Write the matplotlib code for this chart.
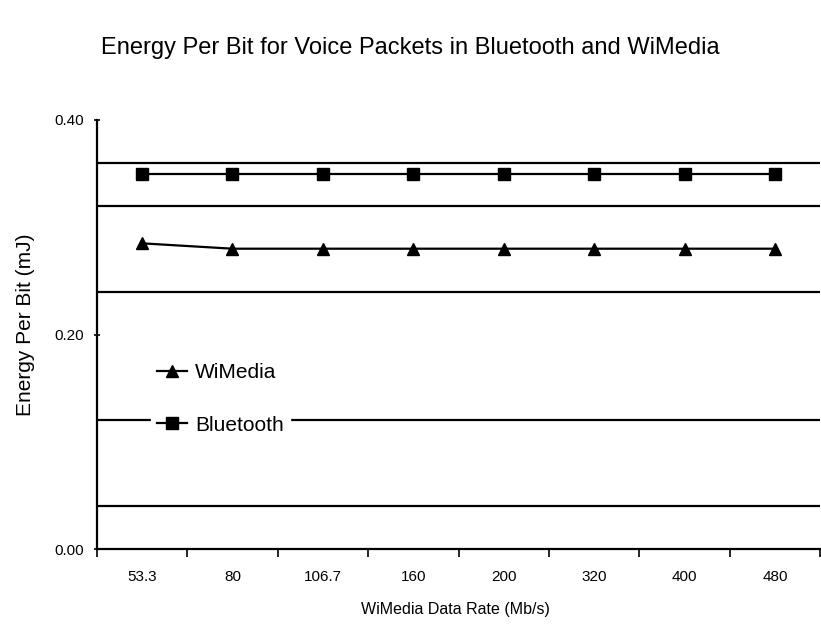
import matplotlib
matplotlib.use("Agg")
import matplotlib.pyplot as plt
import numpy as np

plt.rcParams["font.family"] = ["Liberation Sans", "DejaVu Sans"]

# data
rates = ["53.3", "80", "106.7", "160", "200", "320", "400", "480"]
wimedia = [0.285, 0.280, 0.280, 0.280, 0.280, 0.280, 0.280, 0.280]
bluetooth = [0.350, 0.350, 0.350, 0.350, 0.350, 0.350, 0.350, 0.350]
y_labels = [0.0, 0.2, 0.4]
grid_levels = [0.04, 0.12, 0.24, 0.32, 0.36]

fig = plt.figure(figsize=(8.21, 6.41), dpi=100)
ax = fig.add_axes([0.118, 0.1435, 0.881, 0.6693])

x = np.arange(len(rates))
ax.plot(x, wimedia, color="black", lw=1.6, marker="^", markersize=8, label="WiMedia")
ax.plot(x, bluetooth, color="black", lw=1.6, marker="s", markersize=9, label="Bluetooth")

ax.set_xlim(-0.5, len(rates) - 0.5)
ax.set_ylim(0, 0.4)
ax.set_xticks(x)
ax.set_xticklabels(rates, fontsize=11)
ax.set_xticks(np.arange(len(rates) + 1) - 0.5, minor=True)
ax.tick_params(axis="x", which="major", length=0, pad=15)
ax.tick_params(axis="x", which="minor", length=6, width=1.2, direction="out")

ax.set_yticks(y_labels)
ax.set_yticklabels([f"{v:.2f}" for v in y_labels], fontsize=11)
ax.set_yticks(grid_levels, minor=True)
ax.tick_params(axis="y", which="major", length=5, width=1.2, direction="inout", pad=7)
ax.tick_params(axis="y", which="minor", length=0)
ax.grid(axis="y", which="minor", color="black", lw=1.6)

for side in ["top", "right"]:
    ax.spines[side].set_visible(False)
for side in ["left", "bottom"]:
    ax.spines[side].set_linewidth(1.6)

ax.set_xlabel("WiMedia Data Rate (Mb/s)", fontsize=11.5)
ax.xaxis.set_label_coords(0.496, -0.124)
ax.set_ylabel("Energy Per Bit (mJ)", fontsize=15)
ax.yaxis.set_label_coords(-0.0856, 0.522)
fig.text(0.5, 0.925, "Energy Per Bit for Voice Packets in Bluetooth and WiMedia",
         fontsize=17, ha="center", va="center")

leg = ax.legend(loc="center left", bbox_to_anchor=(0.075, 0.35), frameon=True, fontsize=15,
                handlelength=1.4, labelspacing=1.6, borderpad=0.3, handletextpad=0.4,
                borderaxespad=0, fancybox=False)
leg.get_frame().set_edgecolor("white")
leg.get_frame().set_facecolor("white")
leg.get_frame().set_alpha(1)

fig.savefig("out.png", dpi=100)
